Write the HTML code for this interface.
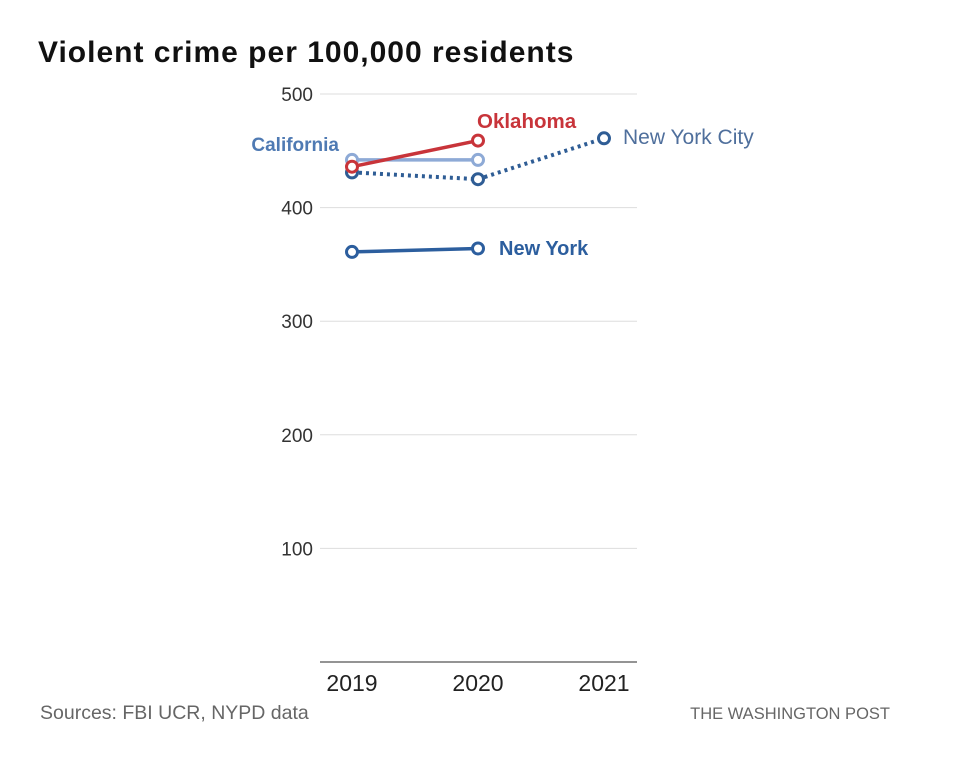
<!DOCTYPE html>
<html><head><meta charset="utf-8"><style>
body{margin:0;background:#fff;width:980px;height:753px;overflow:hidden;font-family:"Liberation Sans",sans-serif}
</style></head><body>
<svg id="chart" width="980" height="753">
<text x="38" y="62" font-size="30" font-weight="bold" letter-spacing="1" fill="#111">Violent crime per 100,000 residents</text>
<g id="grid"></g><g id="series"></g>
<text x="40" y="719" font-size="19.5" fill="#666">Sources: FBI UCR, NYPD data</text>
<text x="890" y="719" font-size="16.5" fill="#666" text-anchor="end">THE WASHINGTON POST</text>
</svg>
<script>
const years=["2019","2020","2021"];
const yTicks=[100,200,300,400,500];
const california=[442,442,null];
const oklahoma=[436,459,null];
const nyc=[431,425,461];
const newYork=[361,364,null];
const NS="http://www.w3.org/2000/svg";
const x=i=>352+i*126;
const y=v=>662-v*1.136;
function mk(t,a,p){const e=document.createElementNS(NS,t);for(const k in a)e.setAttribute(k,a[k]);p.appendChild(e);return e;}
const grid=document.getElementById('grid'),ser=document.getElementById('series');
yTicks.forEach(t=>{
 const l=mk('line',{x1:320,x2:637,y1:y(t),y2:y(t),stroke:'#ddd','stroke-width':1},grid);
 
 
 const tx=mk('text',{x:313,y:y(t)+7,'text-anchor':'end','font-size':19,fill:'#333'},grid);
 tx.textContent=t;
 
 
});
const base=mk('line',{x1:320,x2:637,y1:662,y2:662,stroke:'#555','stroke-width':1.2},grid);


years.forEach((yr,i)=>{
 const tx=mk('text',{x:x(i),y:691,'text-anchor':'middle','font-size':23,fill:'#222'},grid);
 tx.textContent=yr;
 
 
});
function draw(name,vals,color,dash){
 const pts=vals.map((v,i)=>v==null?null:[x(i),y(v)]).filter(p=>p);
 const pl=mk('polyline',{points:pts.map(p=>p.join(',')).join(' '),fill:'none',stroke:color,'stroke-width':dash?4:3.5,'stroke-dasharray':dash?'3 4':''},ser);
 
 
 pts.forEach((p,i)=>{
  const c=mk('circle',{cx:p[0],cy:p[1],r:5.5,fill:'#fff',stroke:color,'stroke-width':3},ser);
  
  
 });
}
draw('california',california,'#8eaad6',false);
draw('new-york-city',nyc,'#2f5d95',true);
draw('oklahoma',oklahoma,'#c8343a',false);
draw('new-york',newYork,'#2c5e9e',false);
function lab(t,xx,yy,c,name,w,anchor,fs){const e=mk('text',{x:xx,y:yy,fill:c,'font-size':fs,'font-weight':w,'text-anchor':anchor||'start'},ser);e.textContent=t;
 
 }
lab('California',339,151,'#4f7ab3','label-california','bold','end',19);
lab('Oklahoma',477,128,'#c8343a','label-oklahoma','bold','start',20.5);
lab('New York City',623,144,'#4f6f9c','label-new-york-city','normal','start',21);
lab('New York',499,255,'#2c5e9e','label-new-york','bold','start',20);
</script>
</body></html>
